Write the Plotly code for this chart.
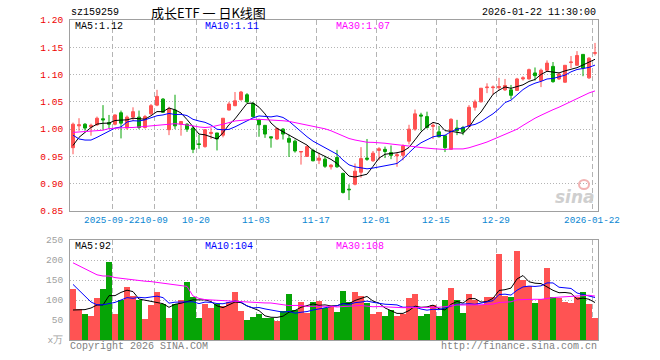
import numpy as np
import plotly.graph_objects as go

# ---------------- data ----------------
opens = [0.966,1.006,1.009,1.004,1.008,1.019,1.012,1.009,1.030,1.002,
         1.022,1.022,1.003,1.028,1.044,1.055,0.999,1.035,1.009,1.009,
         1.002,0.973,0.968,0.992,0.993,0.989,1.035,1.043,1.054,1.063,
         1.047,1.017,1.007,0.986,0.982,1.000,0.983,0.978,0.958,0.950,
         0.961,0.943,0.945,0.931,0.948,0.919,0.890,0.899,0.921,0.947,
         0.942,0.961,0.963,0.957,0.951,0.952,0.978,1.000,1.026,1.023,
         1.005,0.995,0.988,0.963,1.002,1.003,1.005,1.040,1.050,1.076,
         1.076,1.076,1.072,1.072,1.071,1.092,1.092,1.103,1.089,1.108,
         1.115,1.092,1.086,1.122,1.117,1.137,1.094,1.139]
highs = [1.012,1.020,1.011,1.010,1.023,1.044,1.026,1.027,1.034,1.025,
         1.040,1.034,1.026,1.046,1.072,1.057,1.041,1.063,1.015,1.011,
         1.006,0.990,1.000,1.002,0.993,1.020,1.050,1.068,1.070,1.066,
         1.050,1.019,1.007,0.986,1.003,1.002,0.990,0.981,0.960,0.970,
         0.964,0.957,0.951,0.936,0.962,0.920,0.899,0.937,0.967,0.982,
         0.960,0.967,0.968,0.970,0.957,0.972,1.008,1.036,1.030,1.032,
         1.011,1.006,0.988,1.020,1.017,1.006,1.044,1.054,1.075,1.084,
         1.080,1.094,1.092,1.081,1.094,1.097,1.111,1.113,1.111,1.126,
         1.123,1.104,1.117,1.134,1.143,1.137,1.132,1.158]
lows = [0.954,0.997,0.997,0.988,1.006,0.999,1.001,1.007,0.983,0.999,
        1.015,1.000,1.001,1.026,1.042,1.030,0.989,1.000,0.988,0.995,
        0.956,0.964,0.966,0.982,0.961,0.985,1.034,1.042,1.052,1.048,
        1.021,0.986,0.984,0.966,0.980,0.981,0.949,0.957,0.935,0.949,
        0.941,0.936,0.929,0.926,0.929,0.882,0.870,0.897,0.911,0.942,
        0.940,0.943,0.947,0.945,0.931,0.943,0.972,0.997,0.997,1.001,
        0.982,0.985,0.958,0.962,0.989,0.989,1.004,1.034,1.049,1.066,
        1.063,1.071,1.070,1.055,1.070,1.089,1.091,1.089,1.077,1.105,
        1.085,1.090,1.085,1.112,1.116,1.097,1.092,1.135]
closes = [1.009,1.008,1.002,1.007,1.020,1.017,1.009,1.026,1.011,1.022,
          1.032,1.003,1.023,1.043,1.060,1.031,1.037,1.006,1.014,1.000,
          0.963,0.972,0.999,0.994,0.982,1.020,1.046,1.052,1.068,1.050,
          1.023,1.008,0.991,0.984,1.001,0.991,0.976,0.960,0.959,0.968,
          0.942,0.947,0.932,0.934,0.931,0.884,0.889,0.923,0.946,0.945,
          0.956,0.964,0.959,0.952,0.953,0.969,1.000,1.028,1.024,1.003,
          1.007,0.986,0.966,1.018,0.997,0.995,1.040,1.050,1.075,1.077,
          1.077,1.078,1.080,1.062,1.092,1.094,1.109,1.098,1.108,1.121,
          1.087,1.101,1.117,1.123,1.135,1.112,1.130,1.140]
volumes = [128.5,77,65.5,60.5,106,128.5,194,65.5,101,133.5,
           111,101,53,88,121,91,55.5,91,101,146,
           108,55.5,91,81,91,86,96,121,73,50,
           58,65.5,55.5,55.5,48,73,116,75.5,96,68,
           96,98,81,83,70.5,123.5,96,121,111,93,
           65.5,70.5,60.5,75.5,60.5,65.5,106,116,60.5,65.5,
           88,60.5,101,131,101,68,116,101,88,108,
           108,214,111,108,222,151,136,93,103,181,
           108,106,96,93,108,121,91,55.5]

# moving-average values at the start of the window (they depend on earlier days)
ma5_head = [0.970, 0.985, 0.994, 1.003]
ma10_head = [0.989, 0.982, 0.980, 0.980, 0.985, 0.991, 0.997, 1.002, 1.004]
ma30_head = [0.994, 0.995, 0.996, 0.997, 0.997, 0.998, 1.001, 1.002, 1.003, 1.003,
             1.003, 1.004, 1.005, 1.007, 1.008, 1.009, 1.010, 1.010, 1.009, 1.008,
             1.006, 1.004, 1.003, 1.004, 1.006, 1.009, 1.012, 1.015, 1.016]
vma5_head = [75, 75, 76, 80]
vma10_head = [139, 124, 108, 95, 88, 88, 91, 94, 100]
vma30_head = [193, 186, 178, 170, 163, 160, 160, 156, 154, 153,
              151, 149, 147, 146, 144, 142, 141, 139, 137, 134,
              110, 104, 101, 100, 99, 98, 97, 97, 96]

tick_idx = [7, 14, 21, 31, 41, 51, 61, 71, 87]
tick_text = ["2025-09-22", "10-09", "10-20", "11-03", "11-17",
             "12-01", "12-15", "12-29", "2026-01-22"]
price_ticks = [0.85, 0.90, 0.95, 1.00, 1.05, 1.10, 1.15, 1.20]
vol_ticks = [0, 50, 100, 150, 200, 250]
vol_tick_text = ["x万", "50", "100", "150", "200", "250"]

# ---------------- derived ----------------
def moving_avg(vals, n, head):
    arr = np.asarray(vals, float)
    out = list(head)
    for i in range(len(head), len(arr)):
        out.append(float(arr[i - n + 1:i + 1].mean()))
    return out

idx = list(range(len(closes)))
ma5 = moving_avg(closes, 5, ma5_head)
ma10 = moving_avg(closes, 10, ma10_head)
ma30 = moving_avg(closes, 30, ma30_head)
vma5 = moving_avg(volumes, 5, vma5_head)
vma10 = moving_avg(volumes, 10, vma10_head)
vma30 = moving_avg(volumes, 30, vma30_head)

RED = "#ff5353"
GREEN = "#06a406"
MONO = "Liberation Mono"
GRID = "#b4b4b4"
BORDER = "#a0a0a0"

vol_colors = [RED if c >= o else GREEN for o, c in zip(opens, closes)]

fig = go.Figure()
fig.add_trace(go.Candlestick(
    x=idx, open=opens, high=highs, low=lows, close=closes,
    increasing=dict(line=dict(color=RED, width=1), fillcolor=RED),
    decreasing=dict(line=dict(color=GREEN, width=1), fillcolor=GREEN),
    whiskerwidth=0, hoverinfo="skip", xaxis="x", yaxis="y", showlegend=False))
for series, col in [(ma5, "#000000"), (ma10, "#0000ff"), (ma30, "#ff00ff")]:
    fig.add_trace(go.Scatter(x=idx, y=series, mode="lines",
                             line=dict(color=col, width=1), hoverinfo="skip",
                             xaxis="x", yaxis="y", showlegend=False))

fig.add_trace(go.Bar(x=idx, y=volumes, marker=dict(color=vol_colors, line=dict(width=0)),
                     width=0.85, hoverinfo="skip", xaxis="x2", yaxis="y2", showlegend=False))
for series, col in [(vma5, "#000000"), (vma10, "#0000ff"), (vma30, "#ff00ff")]:
    fig.add_trace(go.Scatter(x=idx, y=series, mode="lines",
                             line=dict(color=col, width=1), hoverinfo="skip",
                             xaxis="x2", yaxis="y2", showlegend=False))

L, R, T, B = 70, 62, 20, 20
W, H = 660, 360
PW, PH = W - L - R, H - T - B

def px(x):
    return (x - L) / PW

def py(y):
    return (H - B - y) / PH

price_dom = [py(211), 1.0]
vol_dom = [0.0, py(240)]

xcommon = dict(range=[-0.5, len(idx) - 0.5], tickmode="array",
               tickvals=[i - 0.5 for i in tick_idx], showgrid=True,
               gridcolor=GRID, griddash="5px,3px", gridwidth=1, zeroline=False,
               showline=True, linecolor=BORDER, linewidth=1, mirror=True, ticks="",
               tickangle=0, automargin=False, fixedrange=True)

fig.update_layout(
    width=W, height=H, autosize=False,
    margin=dict(l=L, r=R, t=T, b=B, pad=0),
    paper_bgcolor="white", plot_bgcolor="white",
    bargap=0, barmode="overlay",
    xaxis=dict(**xcommon, ticktext=tick_text, anchor="y",
               tickfont=dict(family=MONO, size=9.3, color="#0a86d2"),
               rangeslider=dict(visible=False)),
    yaxis=dict(domain=price_dom, range=[0.85, 1.20], tickmode="array",
               tickvals=price_ticks, ticktext=[f"{v:.2f}" for v in price_ticks],
               tickfont=dict(family=MONO, size=9.5, color="#ee0000"),
               showgrid=True, gridcolor=GRID, griddash="1px,2px", zeroline=False,
               showline=True, linecolor=BORDER, mirror=True, ticks="",
               ticklabelstandoff=4, anchor="x", automargin=False, fixedrange=True),
    xaxis2=dict(**xcommon, showticklabels=False, anchor="y2", matches="x"),
    yaxis2=dict(domain=vol_dom, range=[0, 250], tickmode="array",
                tickvals=vol_ticks, ticktext=vol_tick_text,
                tickfont=dict(family=MONO, size=9.5, color="#a0a0a0"),
                showgrid=True, gridcolor=GRID, griddash="1px,2px", zeroline=False,
                showline=True, linecolor=BORDER, mirror=True, ticks="",
                ticklabelstandoff=4, anchor="x2", automargin=False, fixedrange=True),
)

def label(text, x, y, color="#000000", anchor="left", size=10, family=MONO, **kw):
    fig.add_annotation(text=text, x=px(x), y=py(y), xref="paper", yref="paper",
                       xanchor=anchor, yanchor="middle", showarrow=False,
                       font=dict(family=family, size=size, color=color, **kw),
                       borderpad=0)

label("sz159259", 70, 13)
label("成长ETF 一 日K线图", 150, 13, size=13, family="Noto Sans CJK SC")
label("2026-01-22 11:30:00", 597, 13, anchor="right")
label("MA5:1.12", 74, 26)
label("MA10:1.11", 204, 26, color="#0000ff")
label("MA30:1.07", 335, 26, color="#ff00ff")
label("MA5:92", 74, 246)
label("MA10:104", 204, 246, color="#0000ff")
label("MA30:108", 335, 246, color="#ff00ff")
label("Copyright 2026 SINA.COM", 69, 346, color="#808080")
label("http://finance.sina.com.cn", 598, 346, color="#808080", anchor="right")
# sina watermark
label("sina", 596, 197, color="#cfcfcf", anchor="right", size=17,
      family="DejaVu Sans", style="italic", weight="bold")
fig.add_shape(type="circle", xref="paper", yref="paper",
              x0=px(579), x1=px(589), y0=py(189), y1=py(180),
              line=dict(color="#f2b3b3", width=2))

fig.write_html("out.html", config={"displayModeBar": False},
               post_script="document.body.style.margin='0';")
